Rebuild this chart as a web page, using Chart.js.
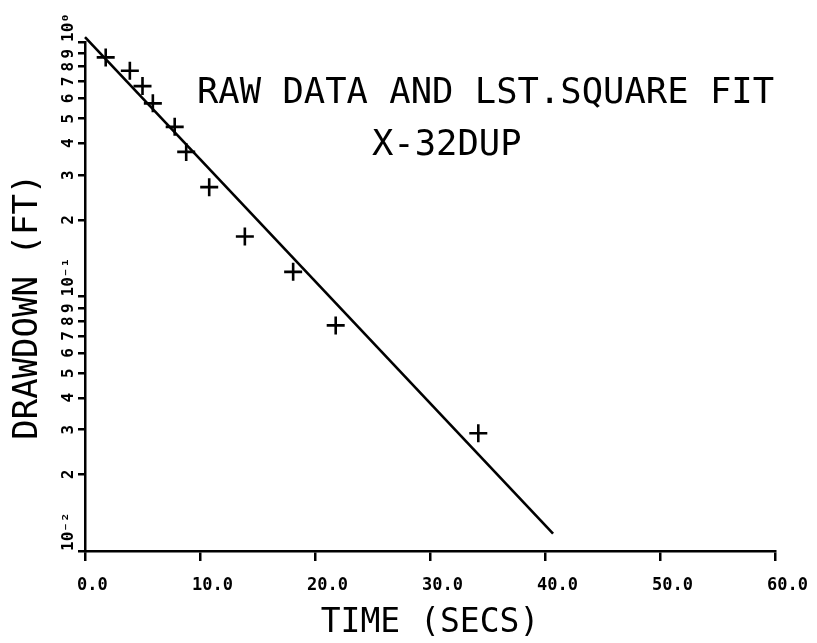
<!DOCTYPE html>
<html>
<head>
<meta charset="utf-8">
<title>Drawdown vs time, X-32DUP</title>
<script src="https://cdn.jsdelivr.net/npm/chart.js@4.4.1/dist/chart.umd.min.js"></script>
<style>
  html, body { margin: 0; padding: 0; background: #ffffff; }
  #wrap { width: 817px; height: 643px; }
</style>
</head>
<body>
<div id="wrap"><canvas id="chart" width="817" height="643"></canvas></div>
<script>
// Measured drawdown (ft) against elapsed time (s)
const timeSecs   = [1.8, 3.9, 5.0, 5.9, 7.8, 8.8, 10.8, 13.9, 18.1, 21.8, 34.2];
const drawdownFt = [0.870, 0.771, 0.671, 0.574, 0.464, 0.370, 0.269, 0.172, 0.125, 0.077, 0.029];

// Least-squares fit line (end points)
const fitTime     = [0, 40.7];
const fitDrawdown = [1.046, 0.0117];

// Axis ticks
const xTickValues = [0, 10, 20, 30, 40, 50, 60];
const yTickValues = [0.01, 0.02, 0.03, 0.04, 0.05, 0.06, 0.07, 0.08, 0.09,
                     0.1, 0.2, 0.3, 0.4, 0.5, 0.6, 0.7, 0.8, 0.9, 1];
const yTickLabels = ['10\u207B\u00B2', '2', '3', '4', '5', '6', '7', '8', '9',
                     '10\u207B\u00B9', '2', '3', '4', '5', '6', '7', '8', '9',
                     '10\u2070'];

const titleLines = ['RAW DATA AND LST.SQUARE FIT', 'X-32DUP'];
const xTitle = 'TIME (SECS)';
const yTitle = 'DRAWDOWN (FT)';

const INK = '#000000';
const MONO = '"DejaVu Sans Mono", "Liberation Mono", monospace';

// Heading lines written inside the plot area
const plotHeading = {
  id: 'plotHeading',
  afterDraw(chart) {
    const ctx = chart.ctx;
    ctx.save();
    ctx.fillStyle = INK;
    ctx.font = '35.5px ' + MONO;
    ctx.textAlign = 'left';
    ctx.textBaseline = 'alphabetic';
    ctx.fillText(titleLines[0], 197, 103);
    ctx.fillText(titleLines[1], 372, 155);
    ctx.restore();
  }
};

const observed = timeSecs.map((t, i) => ({ x: t, y: drawdownFt[i] }));
const fitted = fitTime.map((t, i) => ({ x: t, y: fitDrawdown[i] }));

new Chart(document.getElementById('chart'), {
  type: 'scatter',
  data: {
    datasets: [
      {
        label: 'Raw data',
        data: observed,
        pointStyle: 'cross',
        pointRadius: 9,
        pointHoverRadius: 9,
        borderColor: INK,
        backgroundColor: INK,
        pointBorderWidth: 2.6,
        showLine: false
      },
      {
        label: 'Least-square fit',
        data: fitted,
        showLine: true,
        borderColor: INK,
        borderWidth: 2.6,
        pointRadius: 0,
        fill: false,
        clip: false
      }
    ]
  },
  options: {
    responsive: false,
    animation: false,
    devicePixelRatio: 1,
    layout: { padding: { top: 42, right: 42, bottom: 0, left: 0 } },
    plugins: {
      legend: { display: false },
      tooltip: { enabled: false },
      title: { display: false }
    },
    scales: {
      x: {
        type: 'linear',
        min: 0,
        max: 60,
        afterBuildTicks(scale) {
          scale.ticks = xTickValues.map(v => ({ value: v }));
        },
        afterFit(scale) {
          scale.height = 92;
          scale.paddingLeft = 0;
          scale.paddingRight = 0;
        },
        ticks: {
          color: INK,
          font: { family: MONO, size: 17, weight: 'bold' },
          align: 'start',
          labelOffset: -8,
          padding: 14,
          maxRotation: 0,
          minRotation: 0,
          callback: v => Number(v).toFixed(1)
        },
        grid: { drawOnChartArea: false, drawTicks: true, tickLength: 10, color: INK, lineWidth: 2.5 },
        border: { display: true, color: INK, width: 2.5 },
        title: {
          display: true,
          text: xTitle,
          color: INK,
          font: { family: MONO, size: 33, weight: 'normal' },
          padding: { top: 0, bottom: 0 }
        }
      },
      y: {
        type: 'logarithmic',
        min: 0.01,
        max: 1,
        afterBuildTicks(scale) {
          scale.ticks = yTickValues.map(v => ({ value: v }));
        },
        afterFit(scale) {
          scale.width = 85;
          scale.paddingTop = 0;
          scale.paddingBottom = 0;
        },
        ticks: {
          color: INK,
          font: { family: MONO, size: 16, weight: 'bold' },
          autoSkip: false,
          minRotation: 90,
          maxRotation: 90,
          crossAlign: 'center',
          padding: -29,
          // decade labels start at their tick; digits sit centred on theirs
          callback: (v, i) => {
            const lab = yTickLabels[i];
            return lab.length > 1 ? ' '.repeat(lab.length) + lab : lab;
          }
        },
        grid: { drawOnChartArea: false, drawTicks: true, tickLength: 7, color: INK, lineWidth: 2.5 },
        border: { display: true, color: INK, width: 2.5 },
        title: {
          display: true,
          text: yTitle + ' ',
          color: INK,
          font: { family: MONO, size: 34, weight: 'normal' },
          padding: { top: 8, bottom: 0 }
        }
      }
    }
  },
  plugins: [plotHeading]
});
</script>
</body>
</html>
